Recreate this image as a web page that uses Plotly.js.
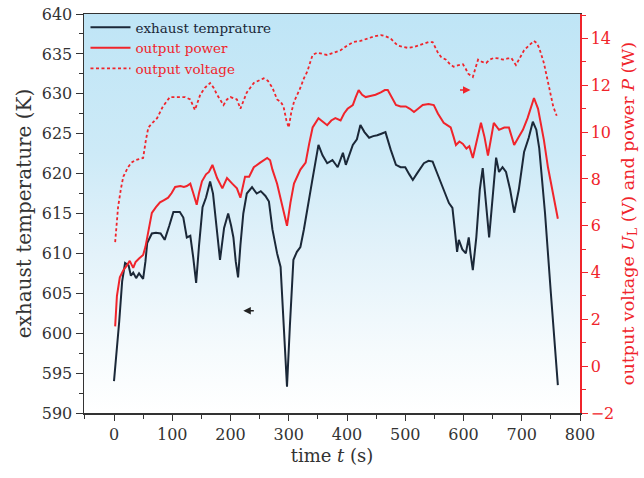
<!DOCTYPE html>
<html>
<head>
<meta charset="utf-8">
<script src="https://cdn.plot.ly/plotly-3.0.1.min.js"></script>
<style>html,body{margin:0;padding:0;background:#fff;}#chart{width:644px;height:478px;}</style>
</head>
<body>
<div id="chart"></div>
<script>
// exhaust temperature (K) vs time (s)
const tempTime = [0,5,9,14,19,25,29,33,38,43,50,54,57,65,72,80,87,95,102,113,119,125,131,136,141,146,152,158,165,170,176,182,189,196,201,205,209,213,217,222,228,237,245,252,260,266,272,280,286,291,297,302,308,314,320,326,332,340,351,358,366,375,384,393,398,404,410,417,423,430,438,445,452,459,466,475,484,492,500,507,513,520,532,540,547,554,561,568,575,581,585,589,592,598,604,609,612,616,622,628,633,638,644,650,656,661,667,673,680,687,695,704,712,719,725,730,740,750,762];
const tempValues = [594.0,598,601.5,606.5,608.8,608.5,607.2,607.6,606.9,607.5,606.8,609.0,611.3,612.5,612.6,612.5,611.7,613.5,615.2,615.2,614.5,612.0,612.2,609.5,606.3,611,615.8,617,619.0,617.5,613,609.2,613.2,615.0,613.5,612.0,609,607.0,611,615.0,617.5,618.3,617.5,617.8,617.2,616.5,613,610,608.3,602,593.3,601,609.2,610.2,610.8,613,615.4,619,623.6,622.3,621.3,621.7,620.8,622.6,621.1,622.5,623.6,624.3,626.1,625.2,624.5,624.7,624.8,625,625.2,623,621.1,620.8,620.8,619.9,619.2,620,621.3,621.6,621.5,620.2,618.8,617.6,616.3,615.7,613,610.2,611.7,610.5,610.0,612,610,607.9,612,618,620.7,617,612.0,617,622.0,620.2,620.8,620.2,618,615.1,618,622.7,624.5,626.5,625.5,623.2,615,605,593.5];

// output power (W) vs time (s)
const powerTime = [2,5,10,16,22,27,33,37,43,50,54,57,62,65,72,79,86,93,99,105,114,120,125,131,136,142,146,151,158,163,169,173,177,186,194,203,211,217,225,232,240,251,263,268,272,280,287,293,297,303,309,320,329,335,341,351,360,366,373,380,389,395,401,410,415,420,426,432,440,449,458,465,470,477,484,492,501,508,515,522,530,540,549,556,566,572,578,583,587,593,599,605,610,616,622,630,636,642,647,652,661,670,678,687,695,702,710,716,721,728,738,745,754,762];
const powerValues = [1.7,3.0,3.8,4.1,4.3,4.5,4.2,4.45,4.6,4.75,5.1,5.5,6.2,6.55,6.8,7.0,7.1,7.2,7.4,7.66,7.7,7.66,7.7,7.8,7.4,6.9,7.4,7.9,8.2,8.3,8.6,8.3,8.04,7.6,8.04,7.8,7.6,7.2,8.1,8.1,8.5,8.7,8.9,8.8,8.4,7.8,7.0,6.4,6.0,7.0,7.8,8.4,8.7,9.5,10.2,10.6,10.4,10.3,10.5,10.6,10.5,10.8,11.0,11.16,11.5,11.8,11.6,11.5,11.55,11.6,11.7,11.8,11.8,11.5,11.16,11.1,11.1,11.0,10.86,11.0,11.16,11.2,11.16,10.8,10.4,10.3,10.2,9.8,9.45,9.6,9.5,9.3,9.4,8.9,9.6,10.4,9.8,9.0,9.7,10.4,10.1,10.2,10.2,9.45,9.8,10.1,10.6,11.1,11.46,11.0,9.67,8.5,7.3,6.3];

// output voltage (V) vs time (s)
const voltTime = [2,7,12,16,20,24,30,36,43,50,55,59,66,74,80,84,90,96,105,114,122,131,139,148,156,165,171,177,182,188,194,200,205,211,217,222,228,234,240,248,257,264,272,280,286,291,296,300,304,309,315,320,326,332,337,341,349,357,366,378,389,400,411,423,435,447,458,466,475,481,487,495,505,515,523,532,540,547,552,556,562,570,577,583,590,599,604,608,616,620,625,632,639,645,652,660,668,676,682,690,697,704,712,721,726,730,738,745,750,754,760];
const voltValues = [5.3,6.8,7.6,8.1,8.3,8.5,8.7,8.8,8.85,8.9,9.7,10.2,10.4,10.6,10.9,11.1,11.3,11.5,11.5,11.5,11.5,11.4,10.95,11.6,11.9,12.1,11.9,11.6,11.4,11.16,11.4,11.5,11.45,11.4,11.0,11.3,11.7,11.9,12.1,12.2,12.3,12.2,11.9,11.4,11.3,11.1,10.5,10.2,10.8,11.3,11.6,11.9,12.3,12.6,13.0,13.3,13.4,13.35,13.3,13.4,13.5,13.7,13.85,13.9,14.0,14.1,14.15,14.1,14.0,13.85,13.7,13.65,13.6,13.64,13.7,13.8,13.85,13.85,13.6,13.4,13.2,13.1,12.9,12.8,12.85,12.9,12.7,12.5,12.36,12.7,13.1,13.0,12.96,13.1,13.17,13.15,13.1,13.15,13.17,12.87,13.2,13.5,13.7,13.9,13.8,13.6,12.96,12.1,11.6,11.1,10.7];

const seriesNames = ['exhaust temprature', 'output power', 'output voltage'];
const xTickVals = [0,100,200,300,400,500,600,700,800];
const leftTickVals = [590,595,600,605,610,615,620,625,630,635,640];
const rightTickVals = [-2,0,2,4,6,8,10,12,14];

const RED = '#f0242b';
const NAVY = '#1b2838';
const FONT = 'DejaVu Serif, Liberation Serif, serif';

const traces = [
  {x: tempTime, y: tempValues, type: 'scatter', mode: 'lines', yaxis: 'y',
   name: '<span style="color:' + NAVY + '">' + seriesNames[0] + '</span>',
   line: {color: NAVY, width: 2}},
  {x: powerTime, y: powerValues, type: 'scatter', mode: 'lines', yaxis: 'y2',
   name: '<span style="color:' + RED + '">' + seriesNames[1] + '</span>',
   line: {color: RED, width: 2}},
  {x: voltTime, y: voltValues, type: 'scatter', mode: 'lines', yaxis: 'y2',
   name: '<span style="color:' + RED + '">' + seriesNames[2] + '</span>',
   line: {color: RED, width: 1.8, dash: '3px,2.5px'}}
];

const gradSvg = '<svg xmlns="http://www.w3.org/2000/svg" width="100" height="100" preserveAspectRatio="none">' +
  '<defs><linearGradient id="g" x1="0" y1="0" x2="0" y2="1">' +
  '<stop offset="0" stop-color="#bfe5f6"/>' +
  '<stop offset="0.35" stop-color="#cdeaf7"/>' +
  '<stop offset="0.6" stop-color="#e3f2fa"/>' +
  '<stop offset="0.85" stop-color="#f6fbfd"/>' +
  '<stop offset="1" stop-color="#ffffff"/>' +
  '</linearGradient></defs><rect width="100" height="100" fill="url(#g)"/></svg>';

const layout = {
  width: 644, height: 478,
  margin: {l: 84, r: 64, t: 14, b: 65},
  paper_bgcolor: '#ffffff',
  plot_bgcolor: 'rgba(0,0,0,0)',
  font: {family: FONT, size: 16, color: '#333333'},
  showlegend: true,
  legend: {x: 0.003, y: 1.005, xanchor: 'left', yanchor: 'top', itemwidth: 40,
    bgcolor: 'rgba(0,0,0,0)', font: {family: FONT, size: 13.5}, tracegroupgap: 0},
  images: [{source: 'data:image/svg+xml;charset=utf-8,' + encodeURIComponent(gradSvg),
    xref: 'paper', yref: 'paper', x: 0, y: 1, sizex: 1, sizey: 1,
    sizing: 'stretch', layer: 'below', xanchor: 'left', yanchor: 'top'}],
  xaxis: {
    range: [-51.5, 800], tickmode: 'array', tickvals: xTickVals,
    ticks: 'outside', ticklen: 6, tickcolor: '#333', tickwidth: 1,
    minor: {dtick: 50, ticks: 'outside', ticklen: 4, tickcolor: '#333'},
    showline: true, linecolor: '#333', linewidth: 1.5, mirror: true,
    showgrid: false, zeroline: false,
    tickfont: {family: FONT, size: 16, color: '#333'},
    title: {text: 'time <i>t</i> (s)', font: {family: FONT, size: 18, color: '#333'}, standoff: 6}
  },
  yaxis: {
    range: [590, 640], tickmode: 'array', tickvals: leftTickVals,
    ticks: 'outside', ticklen: 7, tickcolor: '#333', tickwidth: 1,
    minor: {dtick: 2.5, ticks: 'outside', ticklen: 4, tickcolor: '#333'},
    showline: true, linecolor: '#333', linewidth: 1.5,
    showgrid: false, zeroline: false,
    tickfont: {family: FONT, size: 16, color: '#333'},
    title: {text: 'exhaust temperature (K)', font: {family: FONT, size: 20, color: '#333'}, standoff: 5}
  },
  yaxis2: {
    overlaying: 'y', side: 'right',
    range: [-2, 15.05], tickmode: 'array', tickvals: rightTickVals,
    ticks: 'outside', ticklen: 6, tickcolor: RED, tickwidth: 1,
    minor: {dtick: 1, ticks: 'outside', ticklen: 4, tickcolor: RED},
    showline: true, linecolor: RED, linewidth: 1.5,
    showgrid: false, zeroline: false,
    tickfont: {family: FONT, size: 16, color: RED},
    title: {text: 'output voltage <i>U</i><sub>L</sub> (V) and power <i>P</i> (W)', font: {family: FONT, size: 17.5, color: RED}, standoff: 8}
  },
  annotations: [
    {x: 222, y: 602.8, xref: 'x', yref: 'y', ax: 12, ay: 0, text: '', showarrow: true,
     arrowhead: 2, arrowsize: 1, arrowwidth: 1.5, arrowcolor: '#222'},
    {x: 612, y: 11.8, xref: 'x', yref: 'y2', ax: -12, ay: 0, text: '', showarrow: true,
     arrowhead: 2, arrowsize: 1, arrowwidth: 1.5, arrowcolor: RED}
  ]
};

Plotly.newPlot('chart', traces, layout, {displayModeBar: false, staticPlot: true});
</script>
</body>
</html>
